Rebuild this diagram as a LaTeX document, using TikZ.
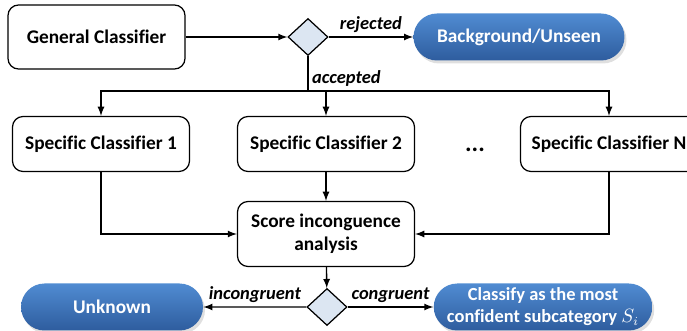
\documentclass[tikz,border=0pt]{standalone}
\usepackage{fontspec}
\setmainfont{Carlito}[Ligatures=NoCommon]
\usetikzlibrary{shapes.geometric,shapes.misc,shadows}

\definecolor{pilltop}{RGB}{80,140,210}
\definecolor{pillbot}{RGB}{46,92,158}
\definecolor{gatefill}{RGB}{220,230,242}

\begin{document}
\begin{tikzpicture}[
  font=\fontsize{11}{13}\selectfont\bfseries,
  clf node/.style={draw, rounded corners=6pt, line width=0.7pt, align=center,
    minimum width=3.54cm, minimum height=1.1cm, inner sep=2pt},
  pill node/.style={rounded rectangle, text=white, align=center, inner sep=2pt,
    top color=pilltop, bottom color=pillbot, minimum height=0.94cm,
    drop shadow={opacity=0.25, shadow xshift=0.4mm, shadow yshift=-0.6mm}},
  gate node/.style={diamond, draw, fill=gatefill, line width=0.7pt, inner sep=0pt,
    minimum width=0.8cm, minimum height=0.74cm},
  flow edge/.style={->, >=latex, line width=0.8pt},
  edge label/.style={font=\fontsize{10.5}{12}\selectfont\bfseries\itshape, inner sep=2pt}
]
\useasboundingbox (0,0) rectangle (13.74,-6.62);
\node[clf node, minimum height=1.28cm] (general) at (1.93, -0.74) {General Classifier};
\node[gate node] (gateA) at (6.16, -0.74) {};
\node[pill node, minimum width=4.36cm] (unseen) at (10.38, -0.74) {Background/Unseen};
\coordinate (split) at (6.16, -1.82);
\node[clf node] (sc1) at (2.02, -2.88) {Specific Classifier 1};
\node[clf node] (sc2) at (6.52, -2.88) {Specific Classifier 2};
\node[clf node] (scN) at (12.18, -2.88) {Specific Classifier N};
\node (dots) at (9.5, -3.0) {\fontsize{14}{14}\selectfont...};
\node[clf node, minimum height=1.3cm] (score) at (6.52, -4.68) {Score inconguence\\analysis};
\node[gate node] (gateB) at (6.54, -6.14) {};
\node[pill node, minimum width=3.78cm] (unknown) at (2.24, -6.14) {Unknown};
\node[pill node, minimum width=4.36cm, font=\fontsize{10.5}{12.5}\selectfont\bfseries] (classify) at (10.86, -6.14) {Classify as the most\\confident subcategory $S_i$};
% first stage
\draw[flow edge] (general) -- (gateA);
\draw[flow edge] (gateA) -- node[edge label, above] {rejected} (unseen);
\draw[line width=0.8pt] (gateA) -- node[edge label, right, pos=0.65] {accepted} (split);
\draw[flow edge] (split) -| (sc1);
\draw[flow edge] (split) -| (sc2);
\draw[flow edge] (split) -| (scN);
% second stage
\draw[flow edge] (sc1) |- (score);
\draw[flow edge] (sc2) -- (score);
\draw[flow edge] (scN) |- (score);
\draw[flow edge] (score) -- (gateB);
\draw[flow edge] (gateB) -- node[edge label, above] {incongruent} (unknown);
\draw[flow edge] (gateB) -- node[edge label, above] {congruent} (classify);
\end{tikzpicture}
\end{document}
